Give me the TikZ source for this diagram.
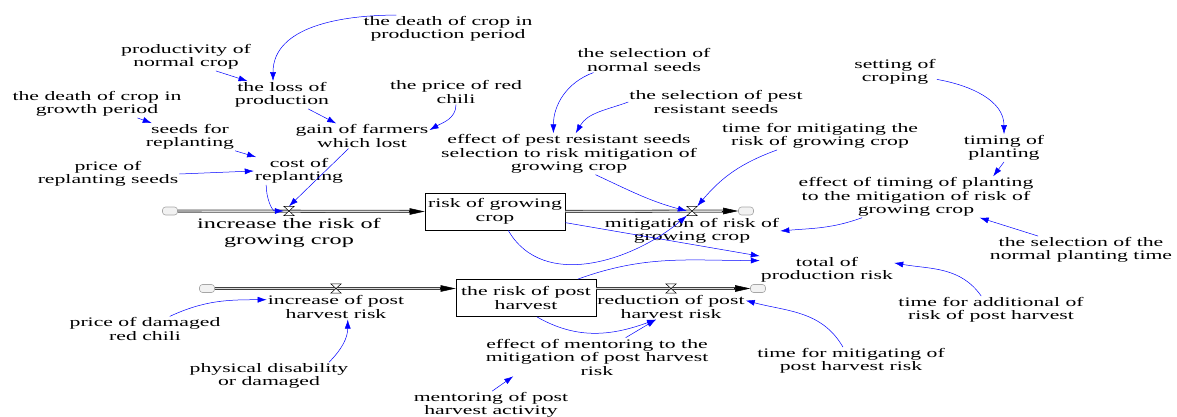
\documentclass[tikz,border=0pt]{standalone}
\usepackage{fontspec}
\setmainfont[FakeStretch=1.67]{Liberation Serif}
\usetikzlibrary{arrows.meta}

\begin{document}
\begin{tikzpicture}[x=1pt,y=-1pt,
  lbl/.style={align=center,inner sep=1pt,font=\fontsize{13}{13.5}\selectfont},
  stock/.style={lbl,draw,line width=0.7pt,minimum width=140pt,minimum height=37pt},
  sink/.style={draw=gray!70,fill=gray!10,line width=0.6pt,rounded corners=3pt,minimum width=15pt,minimum height=8pt,inner sep=0pt},
  valve/.style={inner sep=0pt,minimum width=10pt,minimum height=9pt},
  pipe/.style={draw=black!75,line width=0.8pt,double=gray!30,double distance=1.4pt,shorten >=10pt},
  flowtip/.style={line width=0.5pt,-{Triangle[length=15pt,width=6.5pt]}},
  link/.style={blue,line width=0.5pt,-{Latex[length=9pt,width=6pt]}}]
\useasboundingbox (0,0) rectangle (1177,417);
        \node[lbl] (dprod) at (448,29) {the death of crop in\\production period};
        \node[lbl] (prodn) at (186,57) {productivity of\\normal crop};
        \node[lbl] (loss) at (282,95) {the loss of\\production};
        \node[lbl] (dgrow) at (97,104) {the death of crop in\\growth period};
        \node[lbl] (seeds) at (190,137) {seeds for\\replanting};
        \node[lbl] (pseed) at (108,174) {price of\\replanting seeds};
        \node[lbl] (cost) at (299,171) {cost of\\replanting};
        \node[lbl] (gain) at (362,136) {gain of farmers\\which lost};
        \node[lbl] (chili) at (456,92) {the price of red\\chili};
        \node[lbl] (selnorm) at (644,60) {the selection of\\normal seeds};
        \node[lbl] (selpest) at (716,102) {the selection of pest\\resistant seeds};
        \node[lbl] (effpest) at (569,154) {effect of pest resistant seeds\\selection to risk mitigation of\\growing crop};
        \node[lbl] (tmit) at (820,136) {time for mitigating the\\risk of growing crop};
        \node[lbl] (setcrop) at (895,72) {setting of\\croping};
        \node[lbl] (timing) at (1004,148) {timing of\\planting};
        \node[lbl] (efftime) at (916,197) {effect of timing of planting\\to the mitigation of risk of\\growing crop};
        \node[lbl] (selnpt) at (1081,250) {the selection of the\\normal planting time};
        \node[lbl] (total) at (827,270) {total of\\production risk};
        \node[lbl] (tadd) at (991,310) {time for additional of\\risk of post harvest};
        \node[lbl] (tmitph) at (851,361) {time for mitigating of\\post harvest risk};
        \node[lbl] (effment) at (597,357) {effect of mentoring to the\\mitigation of post harvest\\risk};
        \node[lbl] (ment) at (491,405) {mentoring of post\\harvest activity};
        \node[lbl] (phys) at (269,376) {physical disability\\or damaged};
        \node[lbl] (pdam) at (145,329) {price of damaged\\red chili};
        \node[stock] (rgc) at (495,211.5) {risk of growing\\crop};
        \node[stock] (rph) at (526,298) {the risk of post\\harvest};
        \node[sink] (c1) at (170,211) {};
        \node[sink] (c2) at (746,211) {};
        \node[sink] (c3) at (207,288.5) {};
        \node[sink] (c4) at (758,288.5) {};
        \node[lbl,font=\fontsize{14.5}{16}\selectfont] (inc1) at (289,233) {increase the risk of\\growing crop};
        \node[lbl] (mit1) at (692,231) {mitigation of risk of\\growing crop};
        \node[lbl] (inc2) at (336,307) {increase of post\\harvest risk};
        \node[lbl] (red2) at (671,307) {reduction of post\\harvest risk};
\draw[pipe] (c1.east) -- (rgc.west);
\draw[pipe] (rgc.east) -- (c2.west);
\draw[pipe] (c3.east) -- (c3.east -| rph.west);
\draw[pipe] (rph.east |- c4) -- (c4.west);
\draw[flowtip] ([xshift=-16pt]rgc.west) -- (rgc.west);
\draw[flowtip] ([xshift=-16pt]c2.west) -- (c2.west);
\draw[flowtip] ([xshift=-16pt]c3.east -| rph.west) -- (c3.east -| rph.west);
\draw[flowtip] ([xshift=-16pt]c4.west) -- (c4.west);
        \node[valve] (v1) at (289,211) {};
        \node[valve] (v2) at (692,211) {};
        \node[valve] (v3) at (336,288.5) {};
        \node[valve] (v4) at (671,288.5) {};
\foreach \v in {v1,v2,v3,v4}
  \draw[fill=white,line width=0.5pt] (\v.north west)--(\v.north east)--(\v.south west)--(\v.south east)--cycle;
\draw[link] ([xshift=34pt]dprod.north west) to[out=180,in=90] ([xshift=-9pt]loss.north);
\draw[link] (prodn.-25) -- (loss.158);
\draw[link] (loss.-28) -- (gain.154);
\draw[link] (chili.south) to[out=-90,in=30] (gain.5);
\draw[link] (dgrow.-19) -- (seeds.160);
\draw[link] (seeds.-17) -- (cost.162);
\draw[link] (pseed.east) -- (cost.west);
\draw[link] (cost.-157) to[out=-90,in=180] (v1.west);
\draw[link] (gain.-137) -- (v1.north);
\draw[link] (selnorm.-166) to[out=200,in=90] (effpest.127);
\draw[link] (selpest.west) to[out=200,in=60] (effpest.72);
\draw[link] (effpest.-38) to[out=-25,in=165] (v2.west);
\draw[link] (tmit.-162) to[out=200,in=50] (v2.north east);
\draw[link] (rgc.-55) to[out=-60,in=-140] (v2.south west);
\draw[link] (rgc.-9) -- (total.north west);
\draw[link] (rph.20) to[out=20,in=180] (total.172);
\draw[link] (efftime.-159) to[out=200,in=5] (mit1.east);
\draw[link] (setcrop.-10) to[out=-10,in=90] (timing.north);
\draw[link] (timing.south) -- (efftime.15);
\draw[link] (selnpt.162) -- (efftime.-18);
\draw[link] (tadd.125) to[out=125,in=-10] (total.6);
\draw[link] (tmitph.120) to[out=120,in=-15] (red2.5);
\draw[link] (rph.-60) to[out=-30,in=-160] (red2.-140);
\draw[link] (effment.34) -- (red2.-140);
\draw[link] (ment.85) -- (effment.-167);
\draw[link] (pdam.27) to[out=25,in=180] (inc2.174);
\draw[link] (phys.13) to[out=45,in=-90] (inc2.-47);
\end{tikzpicture}
\end{document}
